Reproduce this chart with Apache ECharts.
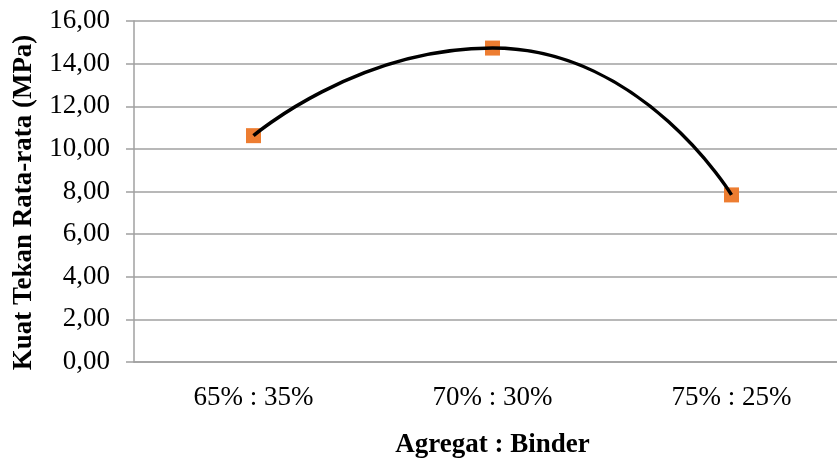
<!DOCTYPE html>
<html>
<head>
<meta charset="utf-8">
<script src="https://cdn.jsdelivr.net/npm/echarts@6/dist/echarts.min.js"></script>
<style>
html,body{margin:0;padding:0;background:#fff;}
#c{width:837px;height:459px;}
</style>
</head>
<body>
<div id="c"></div>
<script>
const categories = ['65% : 35%', '70% : 30%', '75% : 25%'];
const strengthValues = [10.62, 14.73, 7.84];
const yTicks = { min: 0, max: 16, interval: 2 };
const xTitle = 'Agregat : Binder';
const yTitle = 'Kuat Tekan Rata-rata (MPa)';

const FONT = '"Liberation Serif", serif';
const chart = echarts.init(document.getElementById('c'), null, { renderer: 'canvas' });
chart.setOption({
  animation: false,
  backgroundColor: '#fff',
  grid: { left: 134, top: 21, width: 717, height: 341, containLabel: false, outerBoundsMode: 'none' },
  xAxis: {
    type: 'category',
    data: categories,
    boundaryGap: true,
    name: xTitle,
    nameLocation: 'middle',
    nameGap: 70,
    nameTextStyle: { fontFamily: FONT, fontWeight: 'bold', fontSize: 27, color: '#000' },
    axisLine: { lineStyle: { color: '#a0a0a0', width: 1.5 } },
    axisTick: { show: false },
    axisLabel: { fontFamily: FONT, fontSize: 27, color: '#000', margin: 22 }
  },
  yAxis: {
    type: 'value',
    min: yTicks.min, max: yTicks.max, interval: yTicks.interval,
    name: yTitle,
    nameLocation: 'middle',
    nameGap: 96,
    nameTextStyle: { fontFamily: FONT, fontWeight: 'bold', fontSize: 27, color: '#000', padding: [0, 22, 0, 0] },
    axisLine: { show: true, lineStyle: { color: '#a0a0a0', width: 1.5 } },
    axisTick: { show: true, length: 8, lineStyle: { color: '#a0a0a0', width: 1.5 } },
    splitLine: { lineStyle: { color: '#a0a0a0', width: 1.5 } },
    axisLabel: {
      fontFamily: FONT, fontSize: 27, color: '#000', margin: 24,
      formatter: v => v.toFixed(2).replace('.', ',')
    }
  },
  series: [
    {
      type: 'scatter',
      data: strengthValues,
      symbol: 'rect',
      symbolSize: 15,
      itemStyle: { color: '#ED7D31', opacity: 1 },
      z: 2
    },
    {
      type: 'line',
      data: strengthValues,
      smooth: 0.6,
      showSymbol: false,
      symbol: 'none',
      lineStyle: { color: '#000', width: 3.5 },
      z: 3
    }
  ]
});
</script>
</body>
</html>
